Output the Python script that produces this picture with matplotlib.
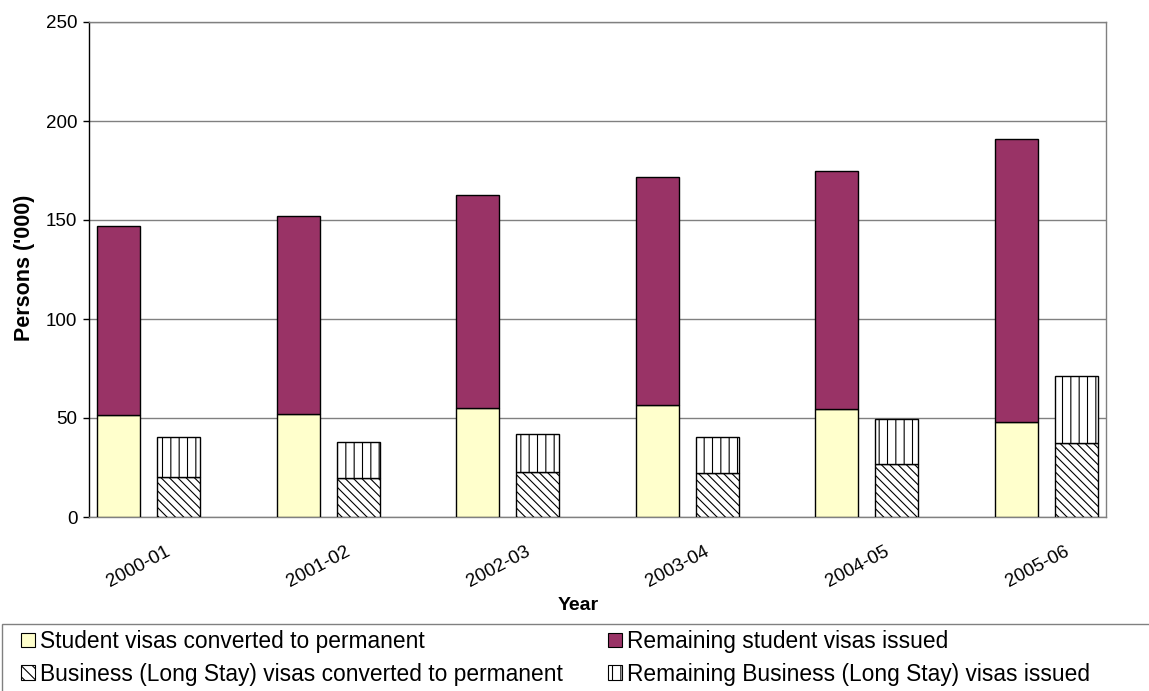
#import the necessary libraries
import matplotlib
matplotlib.use("Agg")
import matplotlib.pyplot as plt
import numpy as np
from matplotlib.patches import Rectangle, Patch

#data (persons, thousands)
years = ["2000-01", "2001-02", "2002-03", "2003-04", "2004-05", "2005-06"]
student_converted = [51.5, 52.0, 55.0, 56.7, 54.4, 47.8]
student_remaining = [95.5, 100.0, 107.6, 114.9, 120.3, 142.9]
business_converted = [20.2, 19.5, 22.9, 22.0, 26.8, 37.2]
business_remaining = [20.2, 18.2, 19.0, 18.3, 22.9, 34.0]

#general font settings
plt.rcParams['font.family'] = ['Liberation Sans', 'DejaVu Sans']
plt.rcParams['hatch.linewidth'] = 0.8

fig = plt.figure(figsize=(11.49, 6.91), dpi=100)
ax = fig.add_axes([89/1149, 1-517/691, (1106-89)/1149, (517-22)/691])

x = np.arange(len(years))
width = 0.239
offset = 0.334

#student visas: stacked bar
ax.bar(x, student_converted, width, color="#FFFFCC", edgecolor="black", linewidth=1.0, zorder=3)
ax.bar(x, student_remaining, width, bottom=student_converted, color="#993366",
       edgecolor="black", linewidth=1.0, zorder=3)
#business visas: stacked bar with hatches
ax.bar(x+offset, business_converted, width, color="white", edgecolor="black",
       hatch="\\"*4, linewidth=1.0, zorder=3)
ax.bar(x+offset, business_remaining, width, bottom=business_converted, color="white",
       edgecolor="black", hatch="||", linewidth=1.0, zorder=3)

#axis limits and ticks
ax.set_xlim(-0.164, 5.498)
ax.set_ylim(0, 250)
ax.set_yticks(np.arange(0, 251, 50))
ax.set_xticks(x+0.114)
ax.set_xticklabels(years, rotation=28, ha="center", va="top")
ax.tick_params(axis="x", length=0, pad=18.5, labelsize=13.5)
ax.tick_params(axis="y", length=4.3, width=1, pad=4, labelsize=13.5, colors="black")

#grid and spines
ax.yaxis.grid(True, color="#808080", linewidth=1.0, zorder=0)
ax.set_axisbelow(True)
for side in ["top", "right", "bottom"]:
    ax.spines[side].set_color("#808080")
    ax.spines[side].set_linewidth(1.0)
ax.spines["left"].set_color("black")
ax.spines["left"].set_linewidth(1.0)

#axis titles
fig.text(25/1149, 1-268/691, "Persons ('000)", rotation=90, ha="center", va="center",
         fontsize=15.5, fontweight="bold")
fig.text(578/1149, 1-605/691, "Year", ha="center", va="center", fontsize=14, fontweight="bold")

#legend frame running off the bottom right of the picture
fig.patches.append(Rectangle((2/1149, -0.05), 1.1, 0.05+(691-624)/691, transform=fig.transFigure,
                             fill=False, edgecolor="#808080", linewidth=1.0))

h1 = Patch(facecolor="#FFFFCC", edgecolor="black", linewidth=0.8)
h2 = Patch(facecolor="white", edgecolor="black", hatch="\\"*3, linewidth=0.8)
h3 = Patch(facecolor="#993366", edgecolor="black", linewidth=0.8)
h4 = Patch(facecolor="white", edgecolor="black", hatch="||", linewidth=0.8)

legend_style = dict(loc="upper left", frameon=False, fontsize=16.4, borderpad=0, borderaxespad=0,
                    handlelength=0.6, handleheight=0.6, handletextpad=0.25, labelspacing=0.42)
fig.legend([h1, h2], ["Student visas converted to permanent",
                      "Business (Long Stay) visas converted to permanent"],
           bbox_to_anchor=(21/1149, 1-630/691), **legend_style)
fig.legend([h3, h4], ["Remaining student visas issued",
                      "Remaining Business (Long Stay) visas issued"],
           bbox_to_anchor=(608/1149, 1-630/691), **legend_style)

fig.savefig("out.png", dpi=100)
